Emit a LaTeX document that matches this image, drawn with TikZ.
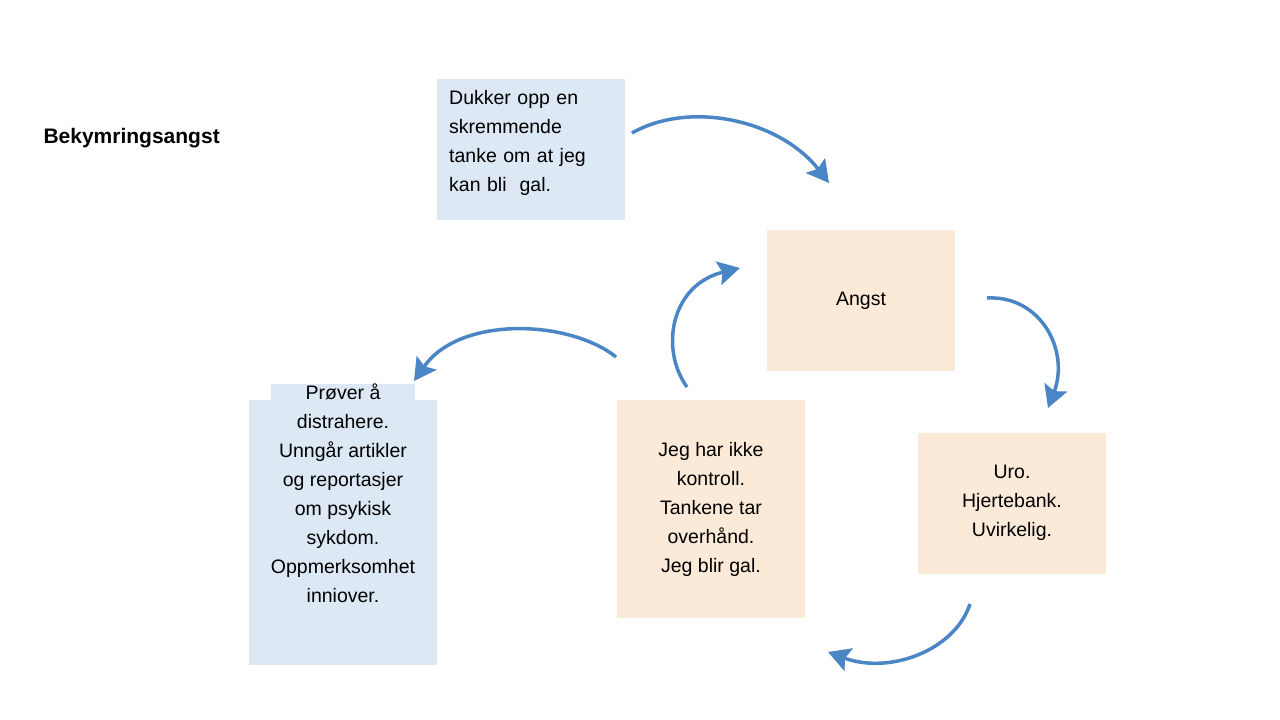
\documentclass[tikz,border=0pt]{standalone}
\usepackage{fontspec}
\setmainfont{Liberation Sans}
\usetikzlibrary{arrows.meta}
\definecolor{bl}{RGB}{220,232,244}
\definecolor{pe}{RGB}{252,234,216}
\definecolor{ar}{RGB}{74,134,197}
\begin{document}
\begin{tikzpicture}[x=1pt,y=-1pt,
 box/.style={fill=#1,draw=none,inner sep=0pt,font=\fontsize{19.5}{29}\selectfont},
 arr/.style={draw=ar,line width=3.5pt,-{Stealth[length=22pt,width=24pt,inset=4pt]}}]
\useasboundingbox (0,0) rectangle (1280,720);
\node[anchor=west,font=\fontsize{21}{25}\selectfont\bfseries] (t) at (40,138) {Bekymringsangst};
\fill[bl] (437,79) rectangle (625,220);
\node[box=bl,anchor=north west,align=left,text width=170pt] (a) at (449,90) {Dukker opp en\\skremmende\\tanke om at jeg\\kan bli\ \ gal.};
\fill[pe] (767,230) rectangle (955,371);
\node[box=pe] (b) at (861,301) {Angst};
\fill[pe] (918,433) rectangle (1106,574);
\node[box=pe,align=center] (c) at (1012,503) {Uro.\\Hjertebank.\\Uvirkelig.};
\fill[pe] (617,400) rectangle (805,618);
\node[box=pe,align=center] (d) at (711,509) {Jeg har ikke\\kontroll.\\Tankene tar\\overhånd.\\Jeg blir gal.};
\fill[bl] (249,400) rectangle (437,665);
\node[box=bl,align=center] (e) at (343,493) {Prøver å\\distrahere.\\Unngår artikler\\og reportasjer\\om psykisk\\sykdom.\\Oppmerksomhet\\inniover.};
\coordinate (p1) at (632,133); \coordinate (q1) at (829,183);
\draw[arr] (p1) .. controls (690,100) and (780,120) .. (q1);
\coordinate (p2) at (987,298); \coordinate (q2) at (1048,408);
\draw[arr] (p2) .. controls (1040,295) and (1070,350) .. (q2);
\coordinate (p3) at (970,604); \coordinate (q3) at (828,652);
\draw[arr] (p3) .. controls (955,650) and (890,675) .. (q3);
\coordinate (p4) at (687,387); \coordinate (q4) at (740,268);
\draw[arr] (p4) .. controls (660,350) and (670,285) .. (q4);
\coordinate (p5) at (616,357); \coordinate (q5) at (414,381);
\draw[arr] (p5) .. controls (570,320) and (460,315) .. (q5);
\end{tikzpicture}
\end{document}
